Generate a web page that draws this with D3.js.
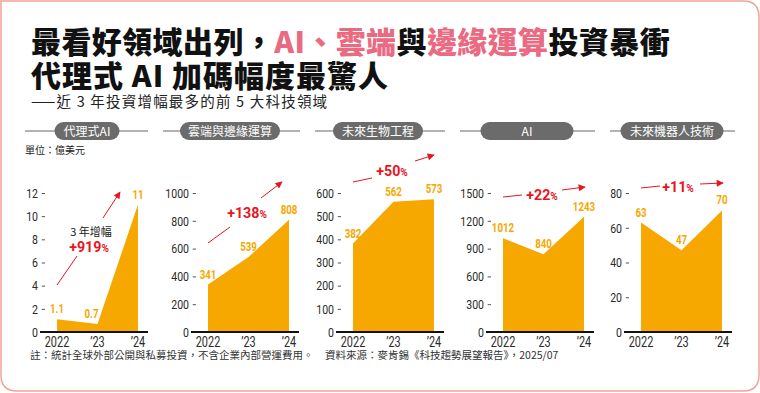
<!DOCTYPE html>
<html>
<head>
<meta charset="utf-8">
<script src="https://cdn.jsdelivr.net/npm/d3@7"></script>
<style>
  body { margin: 0; background: #fff; }
  svg { display: block; }
  .cjk { font-family: "Noto Sans CJK TC", "Noto Sans", sans-serif; }
  .num { font-family: Roboto, "Liberation Sans", sans-serif; }
</style>
</head>
<body>
<svg width="760" height="393"></svg>
<script>
// data
const fields = ["代理式AI", "雲端與邊緣運算", "未來生物工程", "AI", "未來機器人技術"];
const years = ["2022", "’23", "’24"];
const values = [
  [1.1, 0.7, 11],
  [341, 539, 808],
  [382, 562, 573],
  [1012, 840, 1243],
  [63, 47, 70]
];
const tickMax = [12, 1000, 600, 1500, 80];
const tickStep = [2, 200, 100, 300, 20];
const growth = ["+919%", "+138%", "+50%", "+22%", "+11%"];

// layout per panel
const axisX = [45, 196, 341, 491, 629];
const head = [
  { cx: 87, w: 65, x1: 25, x2: 148 },
  { cx: 230, w: 100, x1: 163, x2: 300 },
  { cx: 378, w: 90, x1: 315, x2: 445 },
  { cx: 527, w: 93, x1: 460, x2: 595 },
  { cx: 672, w: 103, x1: 610, x2: 735 }
];
const note = [
  { x: 89, y: 252, a: [[57, 285], [77, 256]], b: [[103, 218], [120, 192]] },
  { x: 247, y: 218, a: [[208, 243], [230, 227]], b: [[261, 198], [282, 182]] },
  { x: 392, y: 176, a: [[353, 182], [372, 178]], b: [[415, 161], [434, 155]] },
  { x: 542, y: 200, a: [[503, 197], [522, 195]], b: [[562, 190], [585, 187]] },
  { x: 678, y: 192, a: [[641, 188], [660, 186]], b: [[700, 184], [723, 183]] }
];
const labelDx = [[0, -6, 0], [0, 0, 0], [0, 0, 0], [0, 0, 0], [0, 0, 0]];

const orange = '#f6a800';
const red = '#e8141e';
const pink = '#ea6a82';
const squeeze = 0.78; // condensed look for the numbers

const svg = d3.select('svg');

// frame
svg.append('path')
  .attr('d', 'M1,1 H743 Q759,1 759,17 V375 Q759,391 743,391 H17 Q1,391 1,375 Z')
  .attr('fill', 'none')
  .attr('stroke', '#f2a493')
  .attr('stroke-width', 1.5);

// arrow marker
svg.append('defs').append('marker')
  .attr('id', 'arr')
  .attr('viewBox', '0 0 10 10')
  .attr('refX', 9).attr('refY', 5)
  .attr('markerWidth', 9).attr('markerHeight', 7)
  .attr('markerUnits', 'userSpaceOnUse')
  .attr('orient', 'auto')
  .append('path').attr('d', 'M0,0 L10,5 L0,10 Z').attr('fill', red);

// title
const t1 = svg.append('text').attr('class', 'cjk')
  .attr('x', 31).attr('y', 53)
  .attr('font-size', 30).attr('font-weight', 900).attr('fill', '#111')
  .attr('letter-spacing', 0.4);
[["最看好領域出列，", '#111'], ["AI、雲端", pink], ["與", '#111'], ["邊緣運算", pink], ["投資暴衝", '#111']]
  .forEach(p => t1.append('tspan').attr('fill', p[1]).text(p[0]));
svg.append('text').attr('class', 'cjk')
  .attr('x', 31).attr('y', 87)
  .attr('font-size', 30).attr('font-weight', 900).attr('fill', '#111')
  .attr('letter-spacing', 1)
  .text("代理式 AI 加碼幅度最驚人");
svg.append('text').attr('class', 'cjk')
  .attr('x', 31).attr('y', 107)
  .attr('font-size', 14.5).attr('fill', '#222')
  .attr('letter-spacing', 1.2)
  .text("——近 3 年投資增幅最多的前 5 大科技領域");

svg.append('text').attr('class', 'cjk')
  .attr('x', 25).attr('y', 154)
  .attr('font-size', 10).attr('fill', '#222')
  .text("單位：億美元");

// footer
svg.append('text').attr('class', 'cjk')
  .attr('x', 30).attr('y', 359)
  .attr('font-size', 10.5).attr('fill', '#333')
  .text("註：統計全球外部公開與私募投資，不含企業內部營運費用。");
svg.append('text').attr('class', 'cjk')
  .attr('x', 325).attr('y', 359)
  .attr('font-size', 10.5).attr('fill', '#333')
  .text("資料來源：麥肯錫《科技趨勢展望報告》，2025/07");

const y0 = 332, yTop = 193;

fields.forEach((name, i) => {
  const g = svg.append('g');
  const h = head[i];

  // header
  g.append('line')
    .attr('x1', h.x1).attr('x2', h.x2).attr('y1', 131).attr('y2', 131)
    .attr('stroke', '#666').attr('stroke-width', 1);
  g.append('rect')
    .attr('x', h.cx - h.w / 2).attr('y', 122)
    .attr('width', h.w).attr('height', 18).attr('rx', 9)
    .attr('fill', '#6b6b6b');
  g.append('text').attr('class', 'cjk')
    .attr('x', h.cx).attr('y', 135.5)
    .attr('text-anchor', 'middle')
    .attr('font-size', 12).attr('fill', '#fff')
    .text(name);

  const ax = axisX[i];
  const x = d3.scalePoint().domain(years).range([ax + 12, ax + 93]);
  const y = d3.scaleLinear().domain([0, tickMax[i]]).range([y0, yTop]);
  const rows = years.map((yr, j) => ({ yr, v: values[i][j], dx: labelDx[i][j] }));

  // area
  g.append('path')
    .datum(rows)
    .attr('fill', orange)
    .attr('d', d3.area().x(d => x(d.yr)).y0(y0).y1(d => y(d.v)));

  // y axis
  const yAxis = g.append('g')
    .attr('transform', `translate(${ax},0)`)
    .call(d3.axisLeft(y)
      .tickValues(d3.range(0, tickMax[i] + tickStep[i] / 2, tickStep[i]))
      .tickFormat(d3.format('d'))
      .tickSize(3.3).tickPadding(3.7));
  yAxis.select('.domain').remove();
  yAxis.selectAll('.tick line').attr('stroke', '#555').attr('stroke-width', 1)
    .filter(d => d === 0).remove();
  yAxis.selectAll('.tick text')
    .attr('class', 'num').attr('font-size', 13.5).attr('fill', '#2a2a2a')
    .attr('x', -7 / squeeze)
    .attr('transform', `scale(${squeeze},1)`);

  // baseline
  g.append('line')
    .attr('x1', ax - 5).attr('x2', ax + 103)
    .attr('y1', y0).attr('y2', y0)
    .attr('stroke', '#111').attr('stroke-width', 2);

  // x labels
  g.selectAll('.xl').data(rows).enter().append('text')
    .attr('class', 'num')
    .attr('transform', d => `translate(${x(d.yr)},347) scale(${squeeze},1)`)
    .attr('text-anchor', 'middle')
    .attr('font-size', 14).attr('fill', '#2a2a2a')
    .text(d => d.yr);

  // value labels
  g.selectAll('.vl').data(rows).enter().append('text')
    .attr('class', 'num')
    .attr('transform', d => `translate(${x(d.yr) + d.dx},${y(d.v) - 6}) scale(${squeeze},1)`)
    .attr('text-anchor', 'middle')
    .attr('font-size', 12.5).attr('font-weight', 700).attr('fill', orange)
    .text(d => d.v);

  // growth note
  const n = note[i];
  [n.a, n.b].forEach((seg, k) => {
    g.append('line')
      .attr('x1', seg[0][0]).attr('y1', seg[0][1])
      .attr('x2', seg[1][0]).attr('y2', seg[1][1])
      .attr('stroke', red).attr('stroke-width', 1)
      .attr('marker-end', k === 1 ? 'url(#arr)' : null);
  });
  if (i === 0) {
    g.append('text').attr('class', 'cjk')
      .attr('x', n.x + 2).attr('y', 236)
      .attr('text-anchor', 'middle')
      .attr('font-size', 11).attr('fill', '#222')
      .text("3 年增幅");
  }
  const gt = g.append('text')
    .attr('class', 'num')
    .attr('transform', `translate(${n.x},${n.y}) scale(0.92,1)`)
    .attr('text-anchor', 'middle')
    .attr('font-size', 15.5).attr('font-weight', 700).attr('fill', red);
  gt.append('tspan').text(growth[i].replace('%', ''));
  gt.append('tspan').attr('font-size', 11).text('%');
});
</script>
</body>
</html>
